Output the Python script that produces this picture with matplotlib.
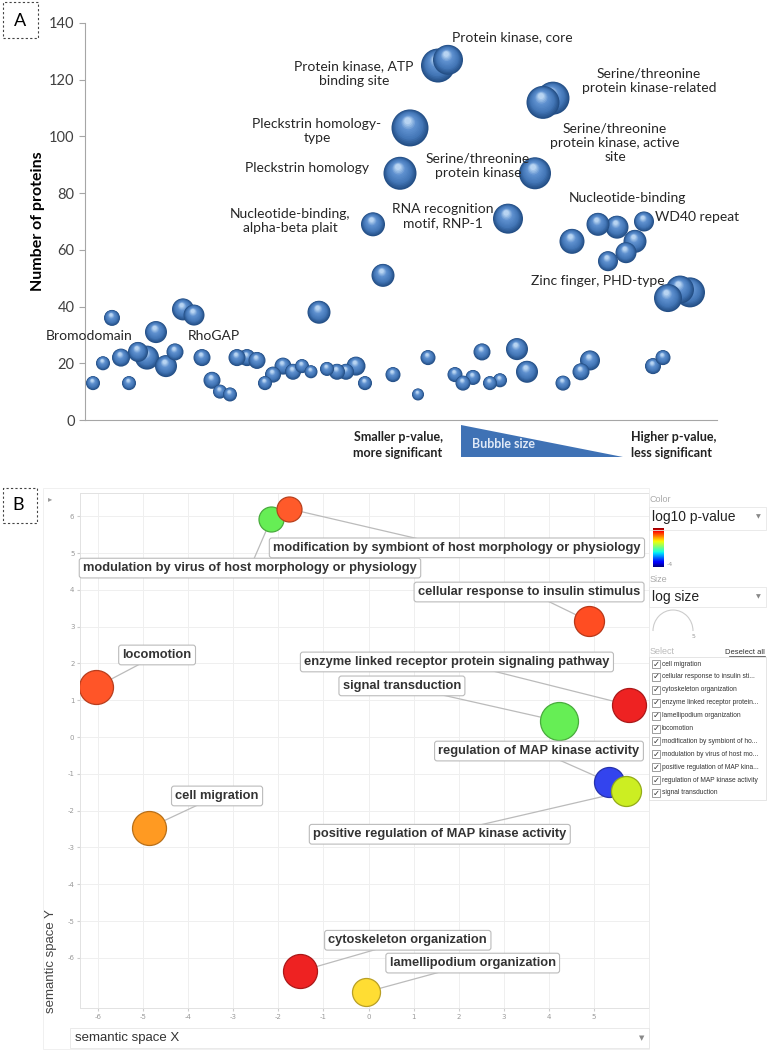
import matplotlib.pyplot as plt
import matplotlib.patches as mpatches
import matplotlib.colors as mcolors
import numpy as np

plt.rcParams["axes.unicode_minus"] = False

W, H = 771, 1050


def fx(x):
    return x / W


def fy(y):
    return 1 - y / H


# ---------------- Panel A data (order along x, number of proteins, bubble radius) ----------------
a_pos = [8, 18, 27, 36, 44, 53, 62, 71, 81, 90, 98, 109, 117, 127, 135, 145, 152, 162, 172,
         180, 188, 198, 208, 217, 226, 234, 242, 252, 261, 271, 280, 288, 298, 308, 333, 343,
         370, 378, 388, 397, 405, 415, 432, 442, 478, 496, 505, 568, 578, 583, 595, 605, 487,
         513, 532, 559, 550, 541, 523, 423, 450, 315, 325, 353, 363, 458, 468]
a_count = [13, 20, 36, 22, 13, 24, 22, 31, 19, 24, 39, 37, 22, 14, 10, 9, 22, 22, 21,
           13, 16, 19, 17, 19, 17, 38, 18, 17, 17, 19, 13, 69, 51, 16, 9, 22,
           16, 13, 15, 24, 13, 14, 25, 17, 13, 17, 21, 19, 22, 43, 46, 45, 63,
           69, 68, 70, 63, 59, 56, 71, 87, 87, 103, 125, 127, 112, 113.5]
a_size = [7, 7, 8, 9, 7, 10, 12, 11, 11, 8.5, 11, 10.5, 8.5, 8.5, 7, 7, 8.5, 8.5, 8.5,
          7, 8, 8.5, 8, 7, 6.5, 11.5, 7, 8, 8, 9.5, 7, 12, 11.5, 7.5, 6, 7.5,
          7.5, 7.5, 7.5, 8.5, 7, 7, 11, 11, 7.5, 8.5, 10, 8, 7.5, 14, 14, 15, 12.5,
          11.5, 11.5, 10, 11.5, 10.5, 10, 15, 16, 16.5, 18.5, 17, 15, 16.5, 16.5]

a_labels = ["Protein kinase, core", "Protein kinase, ATP\nbinding site",
            "Pleckstrin homology-\ntype", "Pleckstrin homology",
            "Nucleotide-binding,\nalpha-beta plait", "Serine/threonine\nprotein kinase",
            "RNA recognition\nmotif, RNP-1", "Serine/threonine\nprotein kinase-related",
            "Serine/threonine\nprotein kinase, active\nsite", "Nucleotide-binding",
            "WD40 repeat", "Zinc finger, PHD-type", "Bromodomain", "RhoGAP"]
a_label_xy = [(427, 135.1), (269, 122.1), (232, 101.9), (222, 88.9), (205, 70.2),
              (393, 89.6), (358, 71.8), (564, 119.6), (530, 97.7), (542, 78.3),
              (570, 71.6), (513, 49.0), (4, 29.6), (129, 29.6)]
a_label_ha = ["center"] * 10 + ["left", "center", "center", "center"]

# ---------------- Panel B data ----------------
b_terms = ["modulation by virus of host morphology or physiology",
           "modification by symbiont of host morphology or physiology",
           "locomotion", "cellular response to insulin stimulus",
           "enzyme linked receptor protein signaling pathway", "signal transduction",
           "regulation of MAP kinase activity", "positive regulation of MAP kinase activity",
           "cell migration", "cytoskeleton organization", "lamellipodium organization"]
b_x = [-2.16, -1.76, -6.04, 4.89, 5.77, 4.22, 5.33, 5.71, -4.88, -1.51, -0.06]
b_y = [5.92, 6.20, 1.36, 3.15, 0.87, 0.43, -1.22, -1.47, -2.47, -6.36, -6.93]
b_radius = [12.5, 12.5, 17, 15, 17, 19, 15, 15, 17, 17, 14]
b_color = ["#66ee55", "#ff5a2a", "#ff5528", "#ff4d22", "#ee2222", "#66ee55",
           "#3344ee", "#ccee22", "#ff9a22", "#ee2222", "#ffdd33"]
b_label_xy = [(-2.63, 4.59), (1.96, 5.14), (-4.69, 2.23), (3.56, 3.94), (1.96, 2.04),
              (0.74, 1.39), (3.78, -0.38), (1.58, -2.64), (-3.36, -1.60), (0.87, -5.52),
              (2.31, -6.14)]

select_items = ["cell migration", "cellular response to insulin sti...",
                "cytoskeleton organization", "enzyme linked receptor protein...",
                "lamellipodium organization", "locomotion",
                "modification by symbiont of ho...", "modulation by virus of host mo...",
                "positive regulation of MAP kina...", "regulation of MAP kinase activity",
                "signal transduction"]

fig = plt.figure(figsize=(W / 100, H / 100), dpi=100)
fig.patch.set_facecolor("white")

# ================= Panel A =================
axA = fig.add_axes([fx(85), fy(420), (717 - 85) / W, (420 - 23) / H])
axA.set_xlim(0, 632)
axA.set_ylim(0, 140)
px_x = 1.0                     # px per data unit in x
px_y = (420 - 23) / 140.0      # px per data unit in y

stops = [(0.0, "#244f86"), (0.3, "#4275b5"), (0.7, "#5f91cf"), (1.0, "#b8d4f2")]


def blend(t):
    for (t0, c0), (t1, c1) in zip(stops[:-1], stops[1:]):
        if t <= t1:
            u = (t - t0) / (t1 - t0)
            a = np.array(mcolors.to_rgb(c0))
            b = np.array(mcolors.to_rgb(c1))
            return tuple(a + (b - a) * u)
    return mcolors.to_rgb(stops[-1][1])


order = np.argsort(a_size)[::-1]
n = 14
for i in order:
    x, y, r = a_pos[i], a_count[i], a_size[i]
    xs, ys, ss, cs = [], [], [], []
    for k in range(n):
        t = k / (n - 1)
        rr = r * (1 - 0.82 * t)
        xs.append(x - 0.12 * r * t / px_x)
        ys.append(y + 0.38 * r * t / px_y)
        ss.append((2 * rr * 0.72) ** 2)
        cs.append(blend(t))
    axA.scatter(xs, ys, s=ss, c=cs, linewidths=0, zorder=3)

for lab, (lx, ly), ha in zip(a_labels, a_label_xy, a_label_ha):
    axA.text(lx, ly, lab, ha=ha, va="center", fontsize=10, family="Lato",
             color="#262626", linespacing=1.25, zorder=5)

axA.spines["top"].set_visible(False)
axA.spines["right"].set_visible(False)
axA.spines["left"].set_color("#a6a6a6")
axA.spines["bottom"].set_color("#a6a6a6")
axA.set_xticks([])
axA.set_yticks(range(0, 141, 20))
axA.tick_params(axis="y", length=4, color="#a6a6a6", labelsize=10.5, labelcolor="#404040")
for t in axA.get_yticklabels():
    t.set_family("Lato")
axA.set_ylabel("Number of proteins", fontsize=11.5, fontweight="bold", family="Lato",
               labelpad=3)

# panel letter A
fig.patches.append(mpatches.Rectangle((fx(3), fy(38)), 35 / W, 36 / H, transform=fig.transFigure,
                                      fill=False, ls=(0, (2, 2)), lw=0.8, ec="#444444"))
fig.text(fx(20), fy(21), "A", fontsize=13, ha="center", va="center", family="Lato")

# bubble size legend
fig.text(fx(398), fy(445), "Smaller p-value,\nmore significant", ha="center", va="center",
         fontsize=9, fontweight="bold", family="Lato", linespacing=1.35, color="#222222")
fig.text(fx(631), fy(445), "Higher p-value,\nless significant", ha="left", va="center",
         fontsize=9, fontweight="bold", family="Lato", linespacing=1.35, color="#222222")
fig.patches.append(mpatches.Polygon([(fx(461), fy(425)), (fx(461), fy(457)), (fx(623), fy(457))],
                                    closed=True, transform=fig.transFigure, fc="#3f72b5", ec="none"))
fig.text(fx(472), fy(444), "Bubble size", ha="left", va="center", fontsize=9,
         fontweight="bold", family="Lato", color="#dfe9f7")

# ================= Panel B =================
fig.patches.append(mpatches.Rectangle((fx(3), fy(523)), 34 / W, 35 / H, transform=fig.transFigure,
                                      fill=False, ls=(0, (2, 2)), lw=0.8, ec="#444444"))
fig.text(fx(18), fy(505), "B", fontsize=13, ha="center", va="center", family="Lato")

fig.patches.append(mpatches.Rectangle((fx(43), fy(1049)), (649 - 43) / W, (1049 - 488) / H,
                                      transform=fig.transFigure, fill=False, lw=0.6,
                                      ec="#eeeeee"))
fig.text(fx(50), fy(499), "\u25b8", fontsize=6, color="#999999", ha="center", va="center")

x0, x1 = -6.4, 6.22
y0, y1 = -7.36, 6.63
axB = fig.add_axes([fx(80), fy(1008), (649 - 80) / W, (1008 - 493) / H])
axB.set_xlim(x0, x1)
axB.set_ylim(y0, y1)
axB.set_xticks(range(-6, 6))
axB.set_yticks(range(-6, 7))
axB.grid(True, color="#efefef", lw=0.7)
axB.set_axisbelow(True)
for s in axB.spines.values():
    s.set_color("#e2e2e2")
    s.set_linewidth(0.7)
axB.tick_params(length=2, color="#cccccc", labelsize=5, labelcolor="#999999", pad=2)

for i in range(len(b_terms)):
    lx, ly = b_label_xy[i]
    axB.plot([b_x[i], lx], [b_y[i], ly], color="#bbbbbb", lw=0.9, zorder=2)

for i in range(len(b_terms)):
    ec = tuple(np.array(mcolors.to_rgb(b_color[i])) * 0.72)
    axB.scatter(b_x[i], b_y[i], s=(2 * b_radius[i] * 0.72) ** 2, color=b_color[i],
                edgecolors=[ec], linewidths=0.9, zorder=3)

for i in range(len(b_terms)):
    lx, ly = b_label_xy[i]
    axB.text(lx, ly, b_terms[i], ha="center", va="center", fontsize=9.25, fontweight="bold",
             family="Liberation Sans", color="#333333", zorder=5,
             bbox=dict(boxstyle="round,pad=0.3,rounding_size=0.2", fc="white",
                       ec="#bbbbbb", lw=0.8))

fig.text(fx(51), fy(961), "semantic space Y", rotation=90, ha="center", va="center",
         fontsize=9.5, family="Liberation Sans", color="#444444")
fig.patches.append(mpatches.Rectangle((fx(70), fy(1048)), (649 - 70) / W, 20 / H,
                                      transform=fig.transFigure, fill=False, lw=0.6,
                                      ec="#e6e6e6"))
fig.text(fx(75), fy(1038), "semantic space X", ha="left", va="center", fontsize=9.5,
         family="Liberation Sans", color="#333333")
fig.text(fx(642), fy(1038), "\u25bc", ha="center", va="center", fontsize=5, color="#888888")

# ---- right side controls ----
grey_lbl = "#aaaaaa"
fig.text(fx(650), fy(500), "Color", fontsize=6.5, color=grey_lbl, va="center",
         family="Liberation Sans")
fig.patches.append(mpatches.Rectangle((fx(649), fy(530)), 117 / W, 23 / H,
                                      transform=fig.transFigure, fill=False, lw=0.6,
                                      ec="#e6e6e6"))
fig.text(fx(652), fy(517), "log10 p-value", fontsize=10, color="#222222", va="center",
         family="Liberation Sans")
fig.text(fx(758), fy(517), "\u25bc", fontsize=4.5, color="#888888", va="center", ha="center")

cax = fig.add_axes([fx(653), fy(567), 11 / W, 39 / H])
cax.imshow(np.linspace(0, 1, 64).reshape(-1, 1), aspect="auto", cmap="jet", origin="lower")
cax.set_axis_off()
fig.text(fx(667), fy(565), "-4", fontsize=4.5, color="#999999", va="center")

fig.text(fx(650), fy(580), "Size", fontsize=6.5, color=grey_lbl, va="center",
         family="Liberation Sans")
fig.patches.append(mpatches.Rectangle((fx(649), fy(607)), 117 / W, 20 / H,
                                      transform=fig.transFigure, fill=False, lw=0.6,
                                      ec="#e6e6e6"))
fig.text(fx(652), fy(597), "log size", fontsize=10, color="#222222", va="center",
         family="Liberation Sans")
fig.text(fx(758), fy(597), "\u25bc", fontsize=4.5, color="#888888", va="center", ha="center")
fig.patches.append(mpatches.Arc((fx(673), fy(631)), 40 / W, 42 / H, theta1=0, theta2=180,
                                transform=fig.transFigure, lw=0.8, color="#cccccc"))
fig.text(fx(692), fy(636), "5", fontsize=4.5, color="#999999", va="center")

fig.text(fx(650), fy(652), "Select", fontsize=6.5, color="#bbbbbb", va="center",
         family="Liberation Sans")
fig.text(fx(765), fy(652), "Deselect all", fontsize=5.5, color="#333333", va="center",
         ha="right", family="Liberation Sans")
fig.lines.append(plt.Line2D([fx(729), fx(765)], [fy(656), fy(656)], transform=fig.transFigure,
                            lw=0.5, color="#333333"))
fig.patches.append(mpatches.Rectangle((fx(649), fy(800)), 117 / W, (800 - 657) / H,
                                      transform=fig.transFigure, fill=False, lw=0.6,
                                      ec="#e0e0e0"))
for k, item in enumerate(select_items):
    yy = 664 + k * 12.9
    fig.patches.append(mpatches.Rectangle((fx(652), fy(yy + 4)), 8 / W, 8 / H,
                                          transform=fig.transFigure, fill=False, lw=0.5,
                                          ec="#777777"))
    fig.text(fx(656), fy(yy), "\u2713", fontsize=6, color="#333333", va="center", ha="center",
             family="DejaVu Sans")
    fig.text(fx(662), fy(yy), item, fontsize=4.8, color="#333333", va="center",
             family="Liberation Sans")

fig.savefig("out.png", dpi=100)
